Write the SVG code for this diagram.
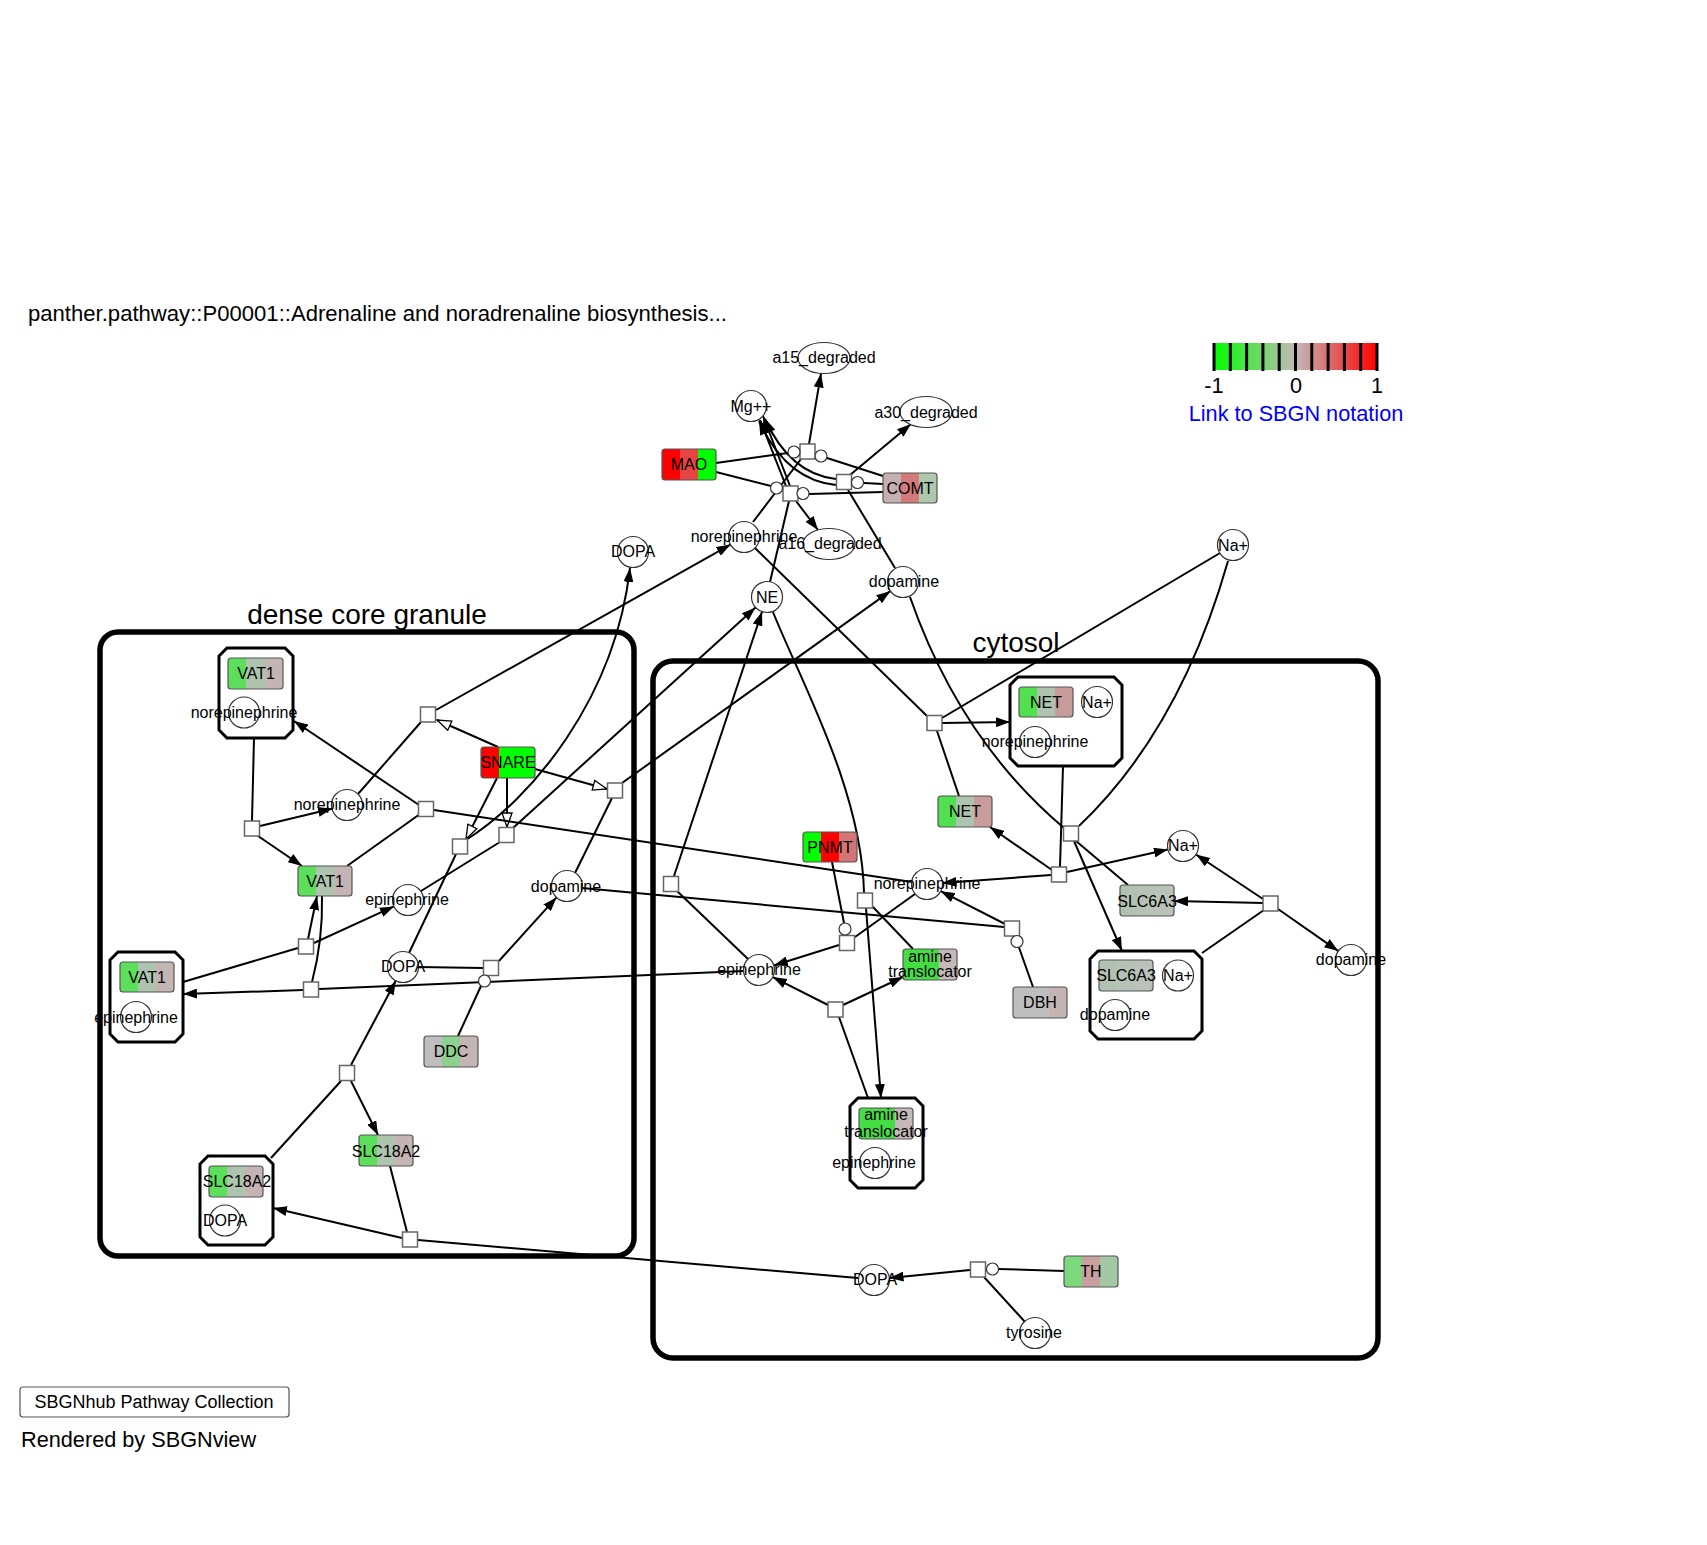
<svg xmlns="http://www.w3.org/2000/svg" width="1707" height="1545" viewBox="0 0 1707 1545">
<style>
text{font-family:"Liberation Sans",Arial,sans-serif;fill:#000}
.lb{font-size:16px;text-anchor:middle}
.big{font-size:28px;text-anchor:middle}
.hd{font-size:21.7px}
.e{fill:none;stroke:#000;stroke-width:2}
.a{fill:none;stroke:#000;stroke-width:2;marker-end:url(#arr)}
.s{fill:none;stroke:#000;stroke-width:2;marker-end:url(#stim)}
.sc{fill:#fff;stroke:#333;stroke-width:1.2}
.pn{fill:#fff;stroke:#666;stroke-width:1.5}
.cc{fill:#fff;stroke:#333;stroke-width:1.2}
.cx{fill:#fff;stroke:#000;stroke-width:3}
.comp{fill:none;stroke:#000;stroke-width:5.5}
.mm{stroke:#555;stroke-width:1.2}
</style>
<defs>
<marker id="arr" viewBox="0 0 14 10" refX="14" refY="5" markerWidth="14" markerHeight="10" markerUnits="userSpaceOnUse" orient="auto"><path d="M0,0 L14,5 L0,10 Z" fill="#000"/></marker>
<marker id="stim" viewBox="0 0 16 12" refX="15" refY="6" markerWidth="16" markerHeight="12" markerUnits="userSpaceOnUse" orient="auto"><path d="M1,1 L15,6 L1,11 Z" fill="#fff" stroke="#000" stroke-width="1.3"/></marker>
<linearGradient id="leg" x1="0" x2="1" y1="0" y2="0"><stop offset="0" stop-color="#00ff00"/><stop offset="0.5" stop-color="#c4b9b9"/><stop offset="1" stop-color="#ff0000"/></linearGradient>
<linearGradient id="g_vat"><stop offset="0" stop-color="#5ce05c"/><stop offset=".333" stop-color="#5ce05c"/><stop offset=".333" stop-color="#aec4ae"/><stop offset=".667" stop-color="#aec4ae"/><stop offset=".667" stop-color="#c4b4b4"/><stop offset="1" stop-color="#c4b4b4"/></linearGradient>
<linearGradient id="g_net"><stop offset="0" stop-color="#50e050"/><stop offset=".333" stop-color="#50e050"/><stop offset=".333" stop-color="#aec4ae"/><stop offset=".667" stop-color="#aec4ae"/><stop offset=".667" stop-color="#c99c9c"/><stop offset="1" stop-color="#c99c9c"/></linearGradient>
<linearGradient id="g_snare"><stop offset="0" stop-color="#ff0000"/><stop offset=".333" stop-color="#ff0000"/><stop offset=".333" stop-color="#00ff00"/><stop offset="1" stop-color="#00ff00"/></linearGradient>
<linearGradient id="g_mao"><stop offset="0" stop-color="#ff0000"/><stop offset=".333" stop-color="#ff0000"/><stop offset=".333" stop-color="#e84444"/><stop offset=".667" stop-color="#e84444"/><stop offset=".667" stop-color="#00ff00"/><stop offset="1" stop-color="#00ff00"/></linearGradient>
<linearGradient id="g_comt"><stop offset="0" stop-color="#c4b0b0"/><stop offset=".333" stop-color="#c4b0b0"/><stop offset=".333" stop-color="#d47a7a"/><stop offset=".667" stop-color="#d47a7a"/><stop offset=".667" stop-color="#aec8ae"/><stop offset="1" stop-color="#aec8ae"/></linearGradient>
<linearGradient id="g_pnmt"><stop offset="0" stop-color="#00ff00"/><stop offset=".333" stop-color="#00ff00"/><stop offset=".333" stop-color="#ff0000"/><stop offset=".667" stop-color="#ff0000"/><stop offset=".667" stop-color="#d47474"/><stop offset="1" stop-color="#d47474"/></linearGradient>
<linearGradient id="g_amine"><stop offset="0" stop-color="#44dd44"/><stop offset=".667" stop-color="#44dd44"/><stop offset=".667" stop-color="#c4b8b8"/><stop offset="1" stop-color="#c4b8b8"/></linearGradient>
<linearGradient id="g_dbh"><stop offset="0" stop-color="#bebebe"/><stop offset=".667" stop-color="#bebebe"/><stop offset=".667" stop-color="#c4b4b4"/><stop offset="1" stop-color="#c4b4b4"/></linearGradient>
<linearGradient id="g_ddc"><stop offset="0" stop-color="#bebebe"/><stop offset=".333" stop-color="#bebebe"/><stop offset=".333" stop-color="#8ed08e"/><stop offset=".667" stop-color="#8ed08e"/><stop offset=".667" stop-color="#c4b4b4"/><stop offset="1" stop-color="#c4b4b4"/></linearGradient>
<linearGradient id="g_slc6"><stop offset="0" stop-color="#b2c2b2"/><stop offset=".333" stop-color="#b2c2b2"/><stop offset=".333" stop-color="#b6c2b6"/><stop offset=".667" stop-color="#b6c2b6"/><stop offset=".667" stop-color="#bac2ba"/><stop offset="1" stop-color="#bac2ba"/></linearGradient>
<linearGradient id="g_th"><stop offset="0" stop-color="#7cd87c"/><stop offset=".333" stop-color="#7cd87c"/><stop offset=".333" stop-color="#c8a0a0"/><stop offset=".667" stop-color="#c8a0a0"/><stop offset=".667" stop-color="#a4c8a4"/><stop offset="1" stop-color="#a4c8a4"/></linearGradient>
</defs>
<rect width="1707" height="1545" fill="#fff"/>

<text class="hd" x="28" y="321" textLength="699" lengthAdjust="spacingAndGlyphs">panther.pathway::P00001::Adrenaline and noradrenaline biosynthesis...</text>

<g id="legend">
<rect x="1214" y="343" width="163" height="27" fill="url(#leg)"/>
<g stroke="#000" stroke-width="3">
<line x1="1214" y1="343" x2="1214" y2="371"/><line x1="1230.3" y1="343" x2="1230.3" y2="371"/><line x1="1246.6" y1="343" x2="1246.6" y2="371"/><line x1="1262.9" y1="343" x2="1262.9" y2="371"/><line x1="1279.2" y1="343" x2="1279.2" y2="371"/><line x1="1295.5" y1="343" x2="1295.5" y2="371"/><line x1="1311.8" y1="343" x2="1311.8" y2="371"/><line x1="1328.1" y1="343" x2="1328.1" y2="371"/><line x1="1344.4" y1="343" x2="1344.4" y2="371"/><line x1="1360.7" y1="343" x2="1360.7" y2="371"/><line x1="1377" y1="343" x2="1377" y2="371"/>
</g>
<text class="hd" x="1214" y="393" text-anchor="middle">-1</text>
<text class="hd" x="1296" y="393" text-anchor="middle">0</text>
<text class="hd" x="1377" y="393" text-anchor="middle">1</text>
<text class="hd" x="1296" y="421" text-anchor="middle" style="fill:#0000ff">Link to SBGN notation</text>
</g>

<g id="compartments">
<g id="dense_core_granule"><rect class="comp" x="100" y="632" width="534" height="624" rx="18"/><text class="big" x="367" y="624">dense core granule</text></g>
<g id="cytosol"><rect class="comp" x="653" y="661" width="725" height="697" rx="20"/><text class="big" x="1016" y="652">cytosol</text></g>
</g>

<g id="connectors">
<!-- top region -->
<line class="e" x1="716" y1="463" x2="788" y2="453"/>
<line class="e" x1="716" y1="472" x2="771" y2="486"/>
<line class="e" x1="883" y1="476" x2="827" y2="458"/>
<line class="e" x1="883" y1="484" x2="864" y2="483"/>
<line class="e" x1="883" y1="492" x2="809" y2="494"/>
<line class="a" x1="809" y1="444" x2="821" y2="373.5"/>
<line class="a" x1="850" y1="475" x2="911" y2="424"/>
<line class="a" x1="796" y1="501" x2="818" y2="530"/>
<line class="a" x1="786" y1="486" x2="760" y2="420"/>
<line class="a" x1="790" y1="486" x2="763" y2="416"/>
<path class="a" d="M836,479 Q790,474 765,419"/>
<path class="a" d="M836,485 Q786,480 759,421"/>
<line class="e" x1="753" y1="522" x2="801" y2="459"/>
<line class="e" x1="770" y1="582" x2="789" y2="501"/>
<line class="e" x1="895" y1="568" x2="848" y2="490"/>
<!-- exits from granule -->
<line class="a" x1="436" y1="710" x2="730.5" y2="544.6"/>
<line class="s" x1="498" y1="747" x2="437" y2="720"/>
<line class="e" x1="358" y1="794" x2="421" y2="722"/>
<line class="s" x1="497" y1="778" x2="466" y2="839"/>
<line class="s" x1="507" y1="778" x2="507" y2="827"/>
<line class="s" x1="535" y1="769" x2="607" y2="789"/>
<path class="a" d="M466,840 C530,800 615,700 630,568"/>
<line class="a" x1="513" y1="828" x2="755.5" y2="607.5"/>
<line class="a" x1="674" y1="876" x2="762" y2="611.7"/>
<line class="a" x1="622" y1="783" x2="890.4" y2="591.1"/>
<line class="e" x1="575" y1="873" x2="612" y2="798"/>
<line class="e" x1="421" y1="891" x2="500" y2="842"/>
<line class="e" x1="409" y1="953" x2="456" y2="854"/>
<!-- granule internals -->
<line class="e" x1="254" y1="738" x2="252" y2="821"/>
<line class="a" x1="260" y1="826" x2="332" y2="808.7"/>
<line class="a" x1="258" y1="836" x2="302" y2="866"/>
<line class="a" x1="419" y1="805" x2="294" y2="721"/>
<line class="e" x1="420" y1="814" x2="347" y2="866"/>
<line class="e" x1="912" y1="882" x2="434" y2="810"/>
<line class="a" x1="308" y1="939" x2="317" y2="896"/>
<path class="e" d="M312,982 Q323,940 322,896"/>
<line class="a" x1="314" y1="943" x2="393.9" y2="906.4"/>
<line class="e" x1="298" y1="948" x2="183" y2="982"/>
<line class="a" x1="303" y1="990" x2="183" y2="994"/>
<line class="e" x1="744" y1="971" x2="319" y2="989"/>
<line class="e" x1="418" y1="967" x2="483" y2="968"/>
<line class="a" x1="499" y1="961" x2="556.5" y2="897.4"/>
<line class="e" x1="458" y1="1036" x2="481" y2="986"/>
<line class="a" x1="351" y1="1065" x2="395.8" y2="980.7"/>
<line class="e" x1="341" y1="1081" x2="271" y2="1158"/>
<line class="a" x1="351" y1="1081" x2="378" y2="1135"/>
<line class="e" x1="390" y1="1166" x2="407" y2="1232"/>
<line class="a" x1="402" y1="1238" x2="273" y2="1208"/>
<line class="e" x1="858" y1="1278" x2="418" y2="1240"/>
<!-- cytosol -->
<line class="a" x1="970" y1="1270" x2="889.5" y2="1278"/>
<line class="e" x1="1064" y1="1271" x2="998.5" y2="1269"/>
<line class="e" x1="984" y1="1277" x2="1024.6" y2="1321.5"/>
<line class="e" x1="755" y1="548" x2="927" y2="716"/>
<line class="e" x1="1220" y1="553" x2="942" y2="718"/>
<line class="a" x1="942" y1="723" x2="1010" y2="722"/>
<line class="e" x1="937" y1="731" x2="959" y2="796"/>
<line class="e" x1="1063" y1="766" x2="1060" y2="867"/>
<line class="a" x1="1052" y1="870" x2="990" y2="827"/>
<line class="a" x1="1067" y1="872" x2="1167.9" y2="849.5"/>
<line class="a" x1="1051" y1="875" x2="942.5" y2="882.9"/>
<path class="e" d="M910,597 Q960,740 1064,828"/>
<path class="e" d="M1228,561 Q1180,730 1079,826"/>
<line class="e" x1="1076" y1="841" x2="1128" y2="885"/>
<line class="a" x1="1074" y1="841" x2="1122" y2="951"/>
<line class="a" x1="1263" y1="899" x2="1196" y2="854.5"/>
<line class="a" x1="1263" y1="903" x2="1174" y2="901"/>
<line class="a" x1="1278" y1="909" x2="1338.3" y2="951.1"/>
<line class="e" x1="1202" y1="953" x2="1264" y2="910"/>
<line class="e" x1="582" y1="888" x2="1004" y2="927"/>
<line class="a" x1="1005" y1="924" x2="940.7" y2="891.2"/>
<line class="e" x1="1033" y1="987" x2="1019" y2="947.5"/>
<line class="e" x1="832" y1="862" x2="844" y2="923"/>
<line class="e" x1="915" y1="894" x2="855" y2="937"/>
<line class="a" x1="839" y1="945" x2="773.8" y2="965.5"/>
<line class="e" x1="677" y1="891" x2="748" y2="959"/>
<path class="e" d="M773,612 C800,680 862,790 864,893"/>
<line class="a" x1="866" y1="908" x2="881" y2="1098"/>
<line class="e" x1="873" y1="907" x2="913" y2="949"/>
<line class="e" x1="868" y1="1098" x2="839" y2="1017"/>
<line class="a" x1="828" y1="1005" x2="772.8" y2="977.1"/>
<line class="a" x1="843" y1="1005" x2="903" y2="977"/>
</g>

<g id="processes">
<rect class="pn" x="800" y="444" width="15" height="15"/>
<rect class="pn" x="836.5" y="474.5" width="15" height="15"/>
<rect class="pn" x="783" y="486" width="15" height="15"/>
<rect class="pn" x="927" y="715.5" width="15" height="15"/>
<rect class="pn" x="1051.5" y="867" width="15" height="15"/>
<rect class="pn" x="1263" y="896" width="15" height="15"/>
<rect class="pn" x="1004.5" y="921" width="15" height="15"/>
<rect class="pn" x="1063.5" y="826" width="15" height="15"/>
<rect class="pn" x="839.5" y="935.5" width="15" height="15"/>
<rect class="pn" x="857.5" y="893" width="15" height="15"/>
<rect class="pn" x="828" y="1002" width="15" height="15"/>
<rect class="pn" x="663.5" y="876.5" width="15" height="15"/>
<rect class="pn" x="244.5" y="821" width="15" height="15"/>
<rect class="pn" x="418.5" y="801.5" width="15" height="15"/>
<rect class="pn" x="420.5" y="707" width="15" height="15"/>
<rect class="pn" x="452.5" y="839" width="15" height="15"/>
<rect class="pn" x="499" y="827.5" width="15" height="15"/>
<rect class="pn" x="607.5" y="783" width="15" height="15"/>
<rect class="pn" x="298.5" y="939" width="15" height="15"/>
<rect class="pn" x="303.5" y="982" width="15" height="15"/>
<rect class="pn" x="483.5" y="960.5" width="15" height="15"/>
<rect class="pn" x="339.5" y="1065.5" width="15" height="15"/>
<rect class="pn" x="402.5" y="1232" width="15" height="15"/>
<rect class="pn" x="970.5" y="1262" width="15" height="15"/>
<circle class="cc" cx="794" cy="452" r="6"/>
<circle class="cc" cx="821" cy="456" r="6"/>
<circle class="cc" cx="857.5" cy="482.5" r="6"/>
<circle class="cc" cx="776.5" cy="488" r="6"/>
<circle class="cc" cx="803" cy="493.5" r="6"/>
<circle class="cc" cx="484.5" cy="981" r="6"/>
<circle class="cc" cx="1017" cy="941.5" r="6"/>
<circle class="cc" cx="845" cy="929" r="6"/>
<circle class="cc" cx="992.5" cy="1269" r="6"/>
</g>

<g id="a15_degraded"><ellipse class="sc" cx="824" cy="358" rx="26" ry="15.5"/><text class="lb" x="824" y="363">a15_degraded</text></g>
<g id="a30_degraded"><ellipse class="sc" cx="926" cy="412" rx="26" ry="15.5"/><text class="lb" x="926" y="418">a30_degraded</text></g>
<g id="a16_degraded"><ellipse class="sc" cx="829" cy="544" rx="26" ry="15.5"/><text class="lb" x="830" y="549">a16_degraded</text></g>
<g id="Mg"><circle class="sc" cx="751" cy="406" r="15.5"/><text class="lb" x="751" y="412">Mg++</text></g>
<g id="norepinephrine_top"><circle class="sc" cx="744" cy="537" r="15.5"/><text class="lb" x="744" y="542">norepinephrine</text></g>
<g id="DOPA_top"><circle class="sc" cx="633" cy="552" r="15.5"/><text class="lb" x="633" y="557">DOPA</text></g>
<g id="NE"><circle class="sc" cx="767" cy="597" r="15.5"/><text class="lb" x="767" y="603">NE</text></g>
<g id="dopamine_top"><circle class="sc" cx="903" cy="582" r="15.5"/><text class="lb" x="904" y="587">dopamine</text></g>
<g id="Na_top"><circle class="sc" cx="1233" cy="545" r="15.5"/><text class="lb" x="1233" y="551">Na+</text></g>

<g id="MAO"><rect class="mm" x="662" y="449" width="54" height="31" rx="3" fill="url(#g_mao)"/><text class="lb" x="689" y="470">MAO</text></g>
<g id="COMT"><rect class="mm" x="883" y="473" width="54" height="30" rx="3" fill="url(#g_comt)"/><text class="lb" x="910" y="494">COMT</text></g>

<g id="VAT1_norepinephrine">
<path class="cx" d="M227,648 H285 L293,656 V730 L285,738 H227 L219,730 V656 Z"/>
<rect class="mm" x="228" y="658" width="55" height="31" rx="3" fill="url(#g_vat)"/><text class="lb" x="256" y="679">VAT1</text>
<circle class="sc" cx="244" cy="712.5" r="15.5"/><text class="lb" x="244" y="718">norepinephrine</text>
</g>
<g id="norepinephrine_granule"><circle class="sc" cx="347" cy="805" r="15.5"/><text class="lb" x="347" y="810">norepinephrine</text></g>
<g id="SNARE"><rect class="mm" x="481" y="747" width="54" height="31" rx="3" fill="url(#g_snare)"/><text class="lb" x="508" y="768">SNARE</text></g>
<g id="VAT1"><rect class="mm" x="298" y="866" width="54" height="30" rx="3" fill="url(#g_vat)"/><text class="lb" x="325" y="887">VAT1</text></g>
<g id="epinephrine_granule"><circle class="sc" cx="408" cy="900" r="15.5"/><text class="lb" x="407" y="905">epinephrine</text></g>
<g id="dopamine_granule"><circle class="sc" cx="567" cy="886" r="15.5"/><text class="lb" x="566" y="892">dopamine</text></g>
<g id="DOPA_granule"><circle class="sc" cx="403" cy="967" r="15.5"/><text class="lb" x="403" y="972">DOPA</text></g>
<g id="VAT1_epinephrine">
<path class="cx" d="M118,952 H175 L183,960 V1034 L175,1042 H118 L110,1034 V960 Z"/>
<rect class="mm" x="120" y="962" width="54" height="30" rx="3" fill="url(#g_vat)"/><text class="lb" x="147" y="983">VAT1</text>
<circle class="sc" cx="136" cy="1017" r="15.5"/><text class="lb" x="136" y="1023">epinephrine</text>
</g>
<g id="DDC"><rect class="mm" x="424" y="1036" width="54" height="31" rx="3" fill="url(#g_ddc)"/><text class="lb" x="451" y="1057">DDC</text></g>
<g id="SLC18A2"><rect class="mm" x="359" y="1135" width="54" height="31" rx="3" fill="url(#g_vat)"/><text class="lb" x="386" y="1157">SLC18A2</text></g>
<g id="SLC18A2_DOPA">
<path class="cx" d="M208,1156 H265 L273,1164 V1237 L265,1245 H208 L200,1237 V1164 Z"/>
<rect class="mm" x="209" y="1166" width="54" height="31" rx="3" fill="url(#g_vat)"/><text class="lb" x="237" y="1187">SLC18A2</text>
<circle class="sc" cx="225" cy="1220.5" r="15.5"/><text class="lb" x="225" y="1226">DOPA</text>
</g>

<g id="NET_complex">
<path class="cx" d="M1018,677 H1114 L1122,685 V758 L1114,766 H1018 L1010,758 V685 Z"/>
<rect class="mm" x="1019" y="687" width="54" height="30" rx="3" fill="url(#g_net)"/><text class="lb" x="1046" y="708">NET</text>
<circle class="sc" cx="1097" cy="702" r="15.5"/><text class="lb" x="1097" y="708">Na+</text>
<circle class="sc" cx="1035" cy="742" r="15.5"/><text class="lb" x="1035" y="747">norepinephrine</text>
</g>
<g id="NET"><rect class="mm" x="938" y="796" width="54" height="31" rx="3" fill="url(#g_net)"/><text class="lb" x="965" y="817">NET</text></g>
<g id="PNMT"><rect class="mm" x="803" y="832" width="54" height="30" rx="3" fill="url(#g_pnmt)"/><text class="lb" x="830" y="853">PNMT</text></g>
<g id="norepinephrine_cytosol"><circle class="sc" cx="927" cy="884" r="15.5"/><text class="lb" x="927" y="889">norepinephrine</text></g>
<g id="epinephrine_cytosol"><circle class="sc" cx="759" cy="970" r="15.5"/><text class="lb" x="759" y="975">epinephrine</text></g>
<g id="amine_translocator"><rect class="mm" x="903" y="949" width="54" height="31" rx="3" fill="url(#g_amine)"/><text class="lb" x="930" y="962">amine</text><text class="lb" x="930" y="977">translocator</text></g>
<g id="amine_translocator_complex">
<path class="cx" d="M858,1098 H915 L923,1106 V1180 L915,1188 H858 L850,1180 V1106 Z"/>
<rect class="mm" x="859" y="1108" width="54" height="31" rx="3" fill="url(#g_amine)"/><text class="lb" x="886" y="1120">amine</text><text class="lb" x="886" y="1137">translocator</text>
<circle class="sc" cx="875" cy="1163" r="15.5"/><text class="lb" x="874" y="1168">epinephrine</text>
</g>
<g id="DBH"><rect class="mm" x="1013" y="987" width="54" height="31" rx="3" fill="url(#g_dbh)"/><text class="lb" x="1040" y="1008">DBH</text></g>
<g id="Na_cytosol"><circle class="sc" cx="1183" cy="846" r="15.5"/><text class="lb" x="1183" y="851">Na+</text></g>
<g id="SLC6A3"><rect class="mm" x="1120" y="885" width="54" height="31" rx="3" fill="url(#g_slc6)"/><text class="lb" x="1147" y="907">SLC6A3</text></g>
<g id="dopamine_cytosol"><circle class="sc" cx="1351" cy="960" r="15.5"/><text class="lb" x="1351" y="965">dopamine</text></g>
<g id="SLC6A3_complex">
<path class="cx" d="M1098,951 H1194 L1202,959 V1031 L1194,1039 H1098 L1090,1031 V959 Z"/>
<rect class="mm" x="1099" y="960" width="54" height="31" rx="3" fill="url(#g_slc6)"/><text class="lb" x="1126" y="981">SLC6A3</text>
<circle class="sc" cx="1178" cy="975.5" r="15.5"/><text class="lb" x="1178" y="981">Na+</text>
<circle class="sc" cx="1115" cy="1015" r="15.5"/><text class="lb" x="1115" y="1020">dopamine</text>
</g>
<g id="DOPA_cytosol"><circle class="sc" cx="874" cy="1280" r="15.5"/><text class="lb" x="875" y="1285">DOPA</text></g>
<g id="TH"><rect class="mm" x="1064" y="1256" width="54" height="31" rx="3" fill="url(#g_th)"/><text class="lb" x="1091" y="1277">TH</text></g>
<g id="tyrosine"><circle class="sc" cx="1035" cy="1333" r="15.5"/><text class="lb" x="1034" y="1338">tyrosine</text></g>

<g id="footer">
<rect x="20" y="1387" width="269" height="30" rx="3" fill="#fff" stroke="#555" stroke-width="1.2"/>
<text x="154" y="1408" font-size="18" text-anchor="middle">SBGNhub Pathway Collection</text>
<text class="hd" x="21" y="1447">Rendered by SBGNview</text>
</g>
</svg>
